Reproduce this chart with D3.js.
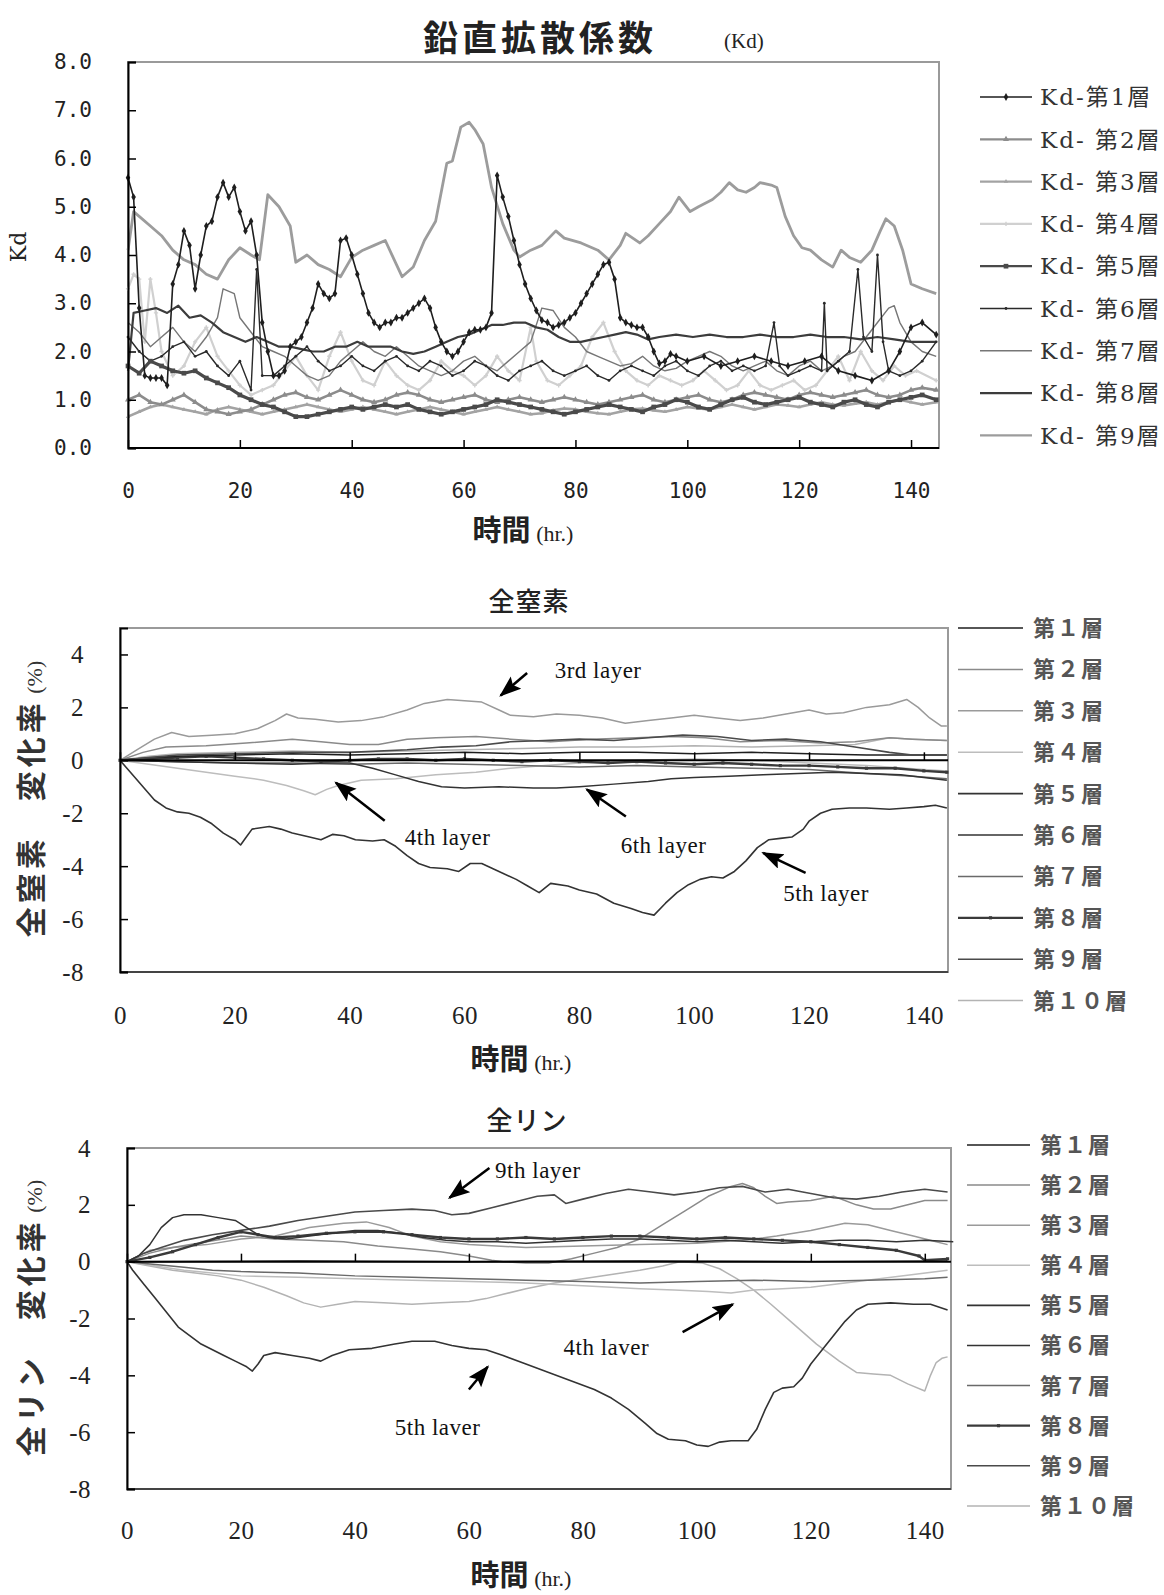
<!DOCTYPE html>
<html>
<head>
<meta charset="utf-8">
<script src="https://cdn.jsdelivr.net/npm/d3@7/dist/d3.min.js"></script>
<style>
  body { margin: 0; background: #fff; }
  svg { display: block; }
</style>
</head>
<body>
<div id="wrapper"></div>
<script>
// ---------- shared ----------
const hourTicks = [0, 20, 40, 60, 80, 100, 120, 140]

// ---------- 鉛直拡散係数 (Kd) : [hour, value] ----------
const kdNames = ["Kd-第1層", "Kd- 第2層", "Kd- 第3層", "Kd- 第4層", "Kd- 第5層",
                 "Kd- 第6層", "Kd- 第7層", "Kd- 第8層", "Kd- 第9層"]
const kdTicks = [0, 1, 2, 3, 4, 5, 6, 7, 8]

const kd1 = [[0,5.6],[1,5.2],[2,2.9],[3,1.5],[4,1.45],[5,1.45],[6,1.45],[7,1.3],[8,3.4],[9,3.8],[10,4.5],[11,4.2],[12,3.3],[13,4.0],[14,4.6],[15,4.7],[16,5.2],[17,5.5],[18,5.2],[19,5.4],[20,4.9],[21,4.5],[22,4.7],[23,4.0],[24,2.6],[25,2.0],[26,1.5],[27,1.5],[28,1.6],[29,2.1],[30,2.2],[31,2.3],[32,2.6],[33,2.9],[34,3.4],[35,3.2],[36,3.1],[37,3.2],[38,4.3],[39,4.35],[40,4.0],[41,3.6],[42,3.2],[43,2.8],[44,2.6],[45,2.5],[46,2.6],[47,2.6],[48,2.7],[49,2.7],[50,2.8],[51,2.9],[52,3.0],[53,3.1],[54,2.9],[55,2.5],[56,2.2],[57,2.0],[58,1.9],[59,2.0],[60,2.2],[61,2.4],[62,2.45],[63,2.45],[64,2.5],[65,2.8],[66,5.65],[67,5.2],[68,4.8],[69,4.3],[70,3.8],[71,3.4],[72,3.1],[73,2.85],[74,2.65],[75,2.6],[76,2.5],[77,2.55],[78,2.6],[79,2.7],[80,2.8],[81,3.0],[82,3.2],[83,3.4],[84,3.6],[85,3.8],[86,3.85],[87,3.5],[88,2.7],[89,2.6],[90,2.55],[91,2.5],[92,2.5],[93,2.3],[94,2.0],[95,1.75],[96,1.8],[97,1.95],[98,1.9],[100,1.8],[103,1.9],[106,1.7],[109,1.8],[112,1.9],[115,1.8],[118,1.7],[121,1.8],[124,1.9],[127,1.6],[130,1.5],[133,1.4],[136,1.6],[138,2.0],[140,2.5],[142,2.6],[144.5,2.35]]

const kd2 = [[0,1.0],[2,1.1],[4,0.95],[6,0.9],[8,1.0],[10,1.1],[12,0.95],[14,0.8],[16,0.75],[18,0.7],[20,0.75],[22,0.8],[24,0.9],[26,1.0],[28,1.1],[30,1.15],[32,1.05],[34,1.0],[36,1.1],[38,1.2],[40,1.1],[42,1.0],[44,0.95],[46,1.0],[48,1.1],[50,1.15],[52,1.1],[54,1.0],[56,0.95],[58,1.0],[60,1.05],[62,1.1],[64,1.0],[66,0.95],[68,1.0],[70,1.05],[72,1.0],[74,0.95],[76,1.0],[78,1.05],[80,1.0],[82,0.95],[84,0.9],[86,0.95],[88,1.0],[90,1.05],[92,1.1],[94,1.0],[96,0.95],[98,1.0],[100,1.05],[102,1.1],[104,1.0],[106,0.95],[108,1.0],[110,1.1],[112,1.15],[114,1.1],[116,1.05],[118,1.0],[120,1.1],[122,1.15],[124,1.1],[126,1.05],[128,1.1],[130,1.15],[132,1.2],[134,1.1],[136,1.05],[138,1.1],[140,1.2],[142,1.25],[144.5,1.2]]

const kd3 = [[0,0.65],[2,0.75],[4,0.85],[6,0.9],[8,0.85],[10,0.8],[12,0.75],[14,0.7],[16,0.8],[18,0.85],[20,0.8],[22,0.75],[24,0.7],[26,0.75],[28,0.8],[30,0.85],[32,0.9],[34,0.85],[36,0.8],[38,0.75],[40,0.8],[42,0.85],[44,0.8],[46,0.75],[48,0.7],[50,0.75],[52,0.8],[54,0.85],[56,0.8],[58,0.75],[60,0.7],[62,0.75],[64,0.8],[66,0.85],[68,0.8],[70,0.75],[72,0.7],[74,0.72],[76,0.78],[78,0.82],[80,0.8],[82,0.75],[84,0.72],[86,0.7],[88,0.75],[90,0.8],[92,0.82],[94,0.78],[96,0.75],[98,0.8],[100,0.85],[102,0.82],[104,0.8],[106,0.85],[108,0.9],[110,0.85],[112,0.8],[114,0.85],[116,0.9],[118,0.88],[120,0.85],[122,0.9],[124,0.95],[126,0.9],[128,0.88],[130,0.92],[132,0.95],[134,0.9],[136,0.95],[138,1.0],[140,0.95],[142,0.9],[144.5,0.95]]

const kd4 = [[0,3.3],[1,3.6],[2,3.5],[3,2.2],[4,3.5],[5,2.8],[6,2.0],[8,1.5],[10,1.7],[12,2.2],[14,2.5],[16,1.9],[18,1.6],[20,1.3],[22,1.1],[24,1.2],[26,1.3],[28,1.6],[30,1.9],[32,1.5],[34,1.2],[36,1.9],[38,2.4],[40,1.8],[42,1.4],[44,1.3],[46,1.8],[48,1.5],[50,1.3],[52,1.2],[54,1.4],[56,1.8],[58,1.6],[60,1.5],[62,1.3],[64,1.5],[66,1.9],[68,1.6],[70,1.4],[72,2.5],[73,1.8],[75,1.4],[77,1.3],[79,1.5],[81,1.7],[83,2.3],[85,2.6],[87,2.0],[89,1.6],[91,1.4],[93,1.3],[95,1.5],[97,1.4],[99,1.3],[101,1.4],[103,1.6],[105,1.4],[107,1.2],[109,1.3],[111,1.6],[113,1.3],[115,1.2],[117,1.3],[119,1.4],[121,1.2],[123,1.3],[125,1.6],[127,1.9],[129,1.4],[131,2.0],[133,1.6],[135,1.4],[137,1.7],[139,1.5],[141,1.6],[144.5,1.4]]

const kd5 = [[0,1.7],[2,1.55],[4,1.8],[6,1.7],[8,1.6],[10,1.55],[12,1.6],[14,1.45],[16,1.35],[18,1.25],[20,1.1],[22,1.0],[24,0.9],[26,0.85],[28,0.75],[30,0.65],[32,0.65],[34,0.7],[36,0.75],[38,0.8],[40,0.85],[42,0.8],[44,0.85],[46,0.9],[48,0.85],[50,0.9],[52,0.8],[54,0.75],[56,0.7],[58,0.75],[60,0.8],[62,0.85],[64,0.9],[66,1.0],[68,0.95],[70,0.9],[72,0.85],[74,0.8],[76,0.75],[78,0.7],[80,0.75],[82,0.8],[84,0.85],[86,0.9],[88,0.85],[90,0.8],[92,0.75],[94,0.85],[96,0.9],[98,1.0],[100,0.95],[102,0.85],[104,0.8],[106,0.9],[108,1.0],[110,1.05],[112,0.95],[114,0.9],[116,0.95],[118,1.0],[120,1.05],[122,0.95],[124,0.9],[126,0.85],[128,0.95],[130,1.0],[132,0.9],[134,0.85],[136,0.95],[138,1.0],[140,1.05],[142,1.1],[144.5,1.0]]

const kd6 = [[0,2.3],[2,2.0],[4,1.8],[6,1.9],[8,2.1],[10,2.2],[12,1.9],[14,2.0],[16,1.7],[18,1.5],[20,1.8],[22,1.2],[23,3.7],[24,1.5],[26,1.5],[28,1.7],[30,1.9],[32,2.1],[34,1.8],[36,1.6],[38,1.7],[40,1.9],[42,1.7],[44,1.6],[46,1.8],[48,1.9],[50,1.7],[52,1.6],[54,1.8],[56,1.7],[58,1.5],[60,1.6],[62,1.8],[64,1.7],[66,1.5],[68,1.4],[70,1.6],[72,1.7],[74,1.8],[76,1.6],[78,1.5],[80,1.6],[82,1.7],[84,1.5],[86,1.4],[88,1.6],[90,1.7],[92,1.6],[94,1.5],[96,1.7],[98,1.8],[100,1.6],[102,1.5],[104,1.7],[106,1.8],[108,1.6],[110,1.7],[112,1.6],[114,1.7],[115.5,2.6],[116.5,1.7],[118,1.5],[120,1.6],[122,1.7],[124,1.6],[124.5,3.0],[125,1.6],[127,1.8],[129,2.0],[130.5,3.7],[131.5,2.3],[133,2.0],[134,4.0],[135,2.2],[136,1.6],[138,1.5],[140,1.6],[142,1.8],[144.5,2.2]]

const kd7 = [[0,2.6],[2,2.4],[4,2.1],[6,2.3],[8,2.5],[10,2.2],[12,2.0],[14,2.3],[16,2.7],[17,3.3],[19,3.2],[20,2.7],[22,2.4],[24,2.1],[26,2.0],[28,1.9],[30,1.7],[32,1.5],[34,1.4],[36,1.5],[38,1.8],[40,2.0],[42,2.2],[44,2.0],[46,1.9],[48,2.1],[50,1.9],[52,1.7],[54,1.6],[56,1.5],[58,1.6],[60,1.8],[62,1.9],[64,1.7],[66,1.6],[68,1.8],[70,2.0],[72,2.2],[74,2.9],[76,2.85],[78,2.5],[80,2.3],[82,2.0],[84,1.9],[86,1.8],[88,1.7],[90,1.75],[92,1.9],[94,1.7],[96,1.6],[98,1.65],[100,1.8],[102,1.9],[104,2.0],[106,1.9],[108,1.7],[110,1.6],[112,1.7],[114,1.8],[116,1.6],[118,1.5],[120,1.7],[122,1.8],[124,1.6],[126,1.7],[128,1.9],[130,2.0],[132,2.3],[134,2.6],[136,2.9],[137,2.95],[138,2.6],[140,2.2],[142,2.0],[144.5,1.9]]

const kd8 = [[0,1.6],[1,2.8],[3,2.85],[5,2.9],[7,2.8],[9,2.95],[11,2.7],[13,2.75],[15,2.6],[17,2.4],[19,2.3],[21,2.2],[23,2.3],[25,2.2],[27,2.1],[29,2.1],[31,2.05],[33,2.0],[35,2.0],[37,2.1],[39,2.1],[41,2.2],[43,2.1],[45,2.1],[47,2.1],[49,2.0],[51,1.95],[53,2.0],[55,2.1],[57,2.2],[59,2.3],[61,2.35],[63,2.45],[65,2.55],[67,2.55],[69,2.6],[71,2.6],[73,2.5],[75,2.45],[77,2.3],[79,2.2],[81,2.2],[83,2.25],[85,2.3],[87,2.35],[89,2.4],[91,2.35],[93,2.25],[95,2.3],[98,2.35],[101,2.3],[104,2.35],[107,2.3],[110,2.3],[113,2.35],[116,2.3],[119,2.3],[122,2.35],[125,2.3],[128,2.3],[131,2.25],[134,2.3],[137,2.25],[140,2.2],[144.5,2.2]]

const kd9 = [[0,4.1],[1,4.9],[2,4.8],[4,4.6],[6,4.4],[8,4.1],[10,3.9],[12,3.8],[14,3.6],[16,3.5],[18,3.9],[20,4.15],[22,4.0],[23.5,3.9],[25,5.25],[27,5.0],[29,4.6],[30,3.85],[32,4.0],[34,3.8],[36,3.7],[38,3.55],[40,3.95],[42,4.1],[44,4.2],[46,4.3],[48,3.8],[49,3.55],[51,3.75],[53,4.3],[55,4.7],[57,5.9],[58,5.95],[59.5,6.65],[61,6.75],[62,6.6],[63.5,6.3],[65,5.4],[67,4.65],[69,4.1],[70,3.96],[72,4.1],[74,4.2],[76.5,4.5],[78,4.35],[81,4.25],[84,4.1],[86,3.9],[88,4.2],[89,4.45],[91.5,4.25],[93,4.4],[95,4.65],[97,4.9],[98.5,5.2],[100.5,4.9],[102,5.0],[104.5,5.15],[106,5.3],[107.5,5.5],[109,5.35],[110.5,5.3],[112,5.4],[113,5.5],[115,5.45],[116,5.4],[117.5,4.8],[119,4.4],[120.5,4.15],[122,4.1],[124,3.9],[126,3.75],[127.5,4.1],[129,3.95],[131,3.85],[133,4.1],[134.5,4.5],[135.5,4.75],[137,4.6],[138.5,4.1],[140,3.4],[142,3.3],[144.5,3.2]]

// ---------- 全窒素 変化率 (%) ----------
const layerNames = ["第１層", "第２層", "第３層", "第４層", "第５層",
                    "第６層", "第７層", "第８層", "第９層", "第１０層"]
const pctTicks = [-8, -6, -4, -2, 0, 2, 4]

const tn1 = [[0,0],[5,0.1],[10,0.15],[20,0.2],[30,0.25],[40,0.2],[50,0.25],[60,0.3],[70,0.25],[80,0.3],[90,0.3],[100,0.25],[110,0.3],[120,0.25],[130,0.2],[140,0.2],[144,0.2]]
const tn2 = [[0,0],[4,0.3],[8,0.5],[15,0.55],[22,0.65],[30,0.8],[35,0.7],[40,0.6],[45,0.6],[50,0.8],[55,0.85],[62,0.9],[68,0.8],[75,0.7],[82,0.8],[90,0.85],[96,0.9],[102,0.85],[108,0.7],[115,0.75],[122,0.65],[128,0.7],[134,0.85],[138,0.8],[144,0.75]]
const tn3 = [[0,0],[3,0.4],[6,0.8],[9,1.05],[12,0.9],[16,0.95],[20,1.0],[24,1.2],[27,1.5],[29,1.75],[31,1.6],[34,1.55],[38,1.45],[42,1.5],[46,1.65],[50,1.9],[53,2.15],[57,2.3],[60,2.25],[63,2.2],[66,1.9],[68,1.7],[72,1.65],[76,1.75],[80,1.7],[84,1.6],[88,1.4],[92,1.5],[96,1.6],[100,1.7],[104,1.6],[108,1.5],[112,1.6],[116,1.75],[120,1.9],[123,1.75],[126,1.8],[130,2.0],[134,2.1],[137,2.3],[139,2.0],[141,1.6],[143,1.3],[144,1.3]]
const tn4 = [[0,0],[5,-0.15],[10,-0.3],[15,-0.45],[20,-0.6],[25,-0.75],[29,-0.95],[32,-1.15],[34,-1.3],[36,-1.1],[38,-0.95],[42,-0.75],[48,-0.7],[55,-0.55],[62,-0.45],[68,-0.3],[74,-0.2],[80,-0.1],[90,0],[100,0.05],[110,0],[120,-0.1],[130,-0.2],[140,-0.35],[144,-0.4]]
const tn5 = [[0,0],[2,-0.5],[4,-1.0],[6,-1.5],[8,-1.8],[10,-1.95],[12,-2.0],[14,-2.15],[16,-2.4],[18,-2.75],[20,-3.0],[21,-3.2],[22,-2.9],[23,-2.6],[26,-2.5],[28,-2.6],[30,-2.75],[33,-2.9],[35,-3.0],[37,-2.8],[39,-2.85],[41,-3.0],[44,-3.05],[46,-3.0],[48,-3.25],[50,-3.6],[52,-3.9],[54,-4.05],[57,-4.1],[59,-4.2],[61,-3.9],[63,-3.9],[66,-4.2],[69,-4.5],[71,-4.75],[73,-5.0],[75,-4.65],[78,-4.75],[80,-4.9],[83,-5.05],[86,-5.4],[89,-5.6],[91,-5.75],[93,-5.85],[95,-5.4],[97,-5.0],[99,-4.7],[101,-4.5],[103,-4.4],[105,-4.45],[107,-4.2],[109,-3.8],[111,-3.3],[113,-3.0],[115,-2.95],[117,-2.9],[119,-2.6],[120,-2.3],[122,-2.0],[124,-1.85],[127,-1.8],[130,-1.8],[134,-1.85],[137,-1.8],[140,-1.75],[142,-1.7],[144,-1.8]]
const tn6 = [[0,0],[10,-0.05],[20,-0.1],[30,-0.15],[36,-0.1],[40,-0.1],[44,-0.3],[48,-0.55],[52,-0.8],[56,-1.0],[60,-1.05],[66,-1.0],[72,-1.05],[76,-1.05],[80,-1.0],[86,-0.9],[92,-0.8],[96,-0.7],[100,-0.65],[106,-0.6],[112,-0.55],[118,-0.5],[124,-0.45],[130,-0.5],[136,-0.55],[140,-0.65],[144,-0.75]]
const tn7 = [[0,0],[10,-0.05],[20,-0.1],[30,-0.1],[40,-0.15],[50,-0.1],[60,-0.15],[70,-0.2],[80,-0.25],[90,-0.2],[100,-0.25],[110,-0.3],[120,-0.35],[130,-0.5],[138,-0.6],[144,-0.7]]
const tn8 = [[0,0],[5,0.05],[10,0.1],[15,0.15],[20,0.1],[25,0.05],[30,0.0],[35,-0.05],[40,0.0],[45,0.05],[50,0.05],[55,0.0],[60,0.05],[65,0.0],[70,-0.05],[75,0.0],[80,-0.05],[85,-0.1],[90,-0.05],[95,-0.1],[100,-0.15],[105,-0.1],[110,-0.15],[115,-0.2],[120,-0.2],[125,-0.25],[130,-0.3],[135,-0.3],[140,-0.4],[144,-0.45]]
const tn9 = [[0,0],[5,0.1],[10,0.2],[20,0.25],[30,0.3],[40,0.3],[50,0.4],[56,0.5],[62,0.55],[68,0.7],[74,0.75],[80,0.8],[86,0.75],[92,0.85],[98,0.95],[104,0.9],[110,0.75],[116,0.8],[122,0.7],[128,0.5],[134,0.3],[138,0.2],[144,0.2]]
const tn10 = [[0,0],[5,0.15],[10,0.25],[20,0.3],[30,0.35],[40,0.3],[50,0.35],[60,0.4],[70,0.45],[80,0.5],[90,0.5],[100,0.55],[110,0.5],[120,0.55],[128,0.6],[134,0.85],[138,0.8],[144,0.75]]

// ---------- 全リン 変化率 (%) ----------
const tp1 = [[0,0],[30,0.02],[60,0.0],[90,0.02],[120,0.0],[144,0.02]]
const tp2 = [[0,0],[4,0.3],[8,0.5],[14,0.7],[20,0.9],[26,0.8],[32,0.75],[38,0.7],[44,0.55],[50,0.45],[55,0.35],[60,0.2],[64,0.05],[66,0],[70,-0.05],[74,-0.05],[78,0.1],[82,0.3],[86,0.5],[90,0.8],[94,1.3],[98,1.8],[102,2.3],[106,2.65],[108,2.75],[110,2.6],[112,2.3],[114,2.05],[116,2.1],[120,2.15],[124,2.3],[128,2.0],[131,1.85],[134,1.85],[137,2.0],[140,2.15],[144,2.15]]
const tp3 = [[0,0],[4,0.4],[8,0.5],[14,0.6],[20,0.8],[26,0.9],[32,1.2],[38,1.35],[42,1.4],[46,1.2],[50,0.9],[55,0.7],[60,0.6],[70,0.5],[80,0.55],[90,0.6],[100,0.65],[108,0.75],[114,0.9],[120,1.1],[126,1.35],[130,1.3],[134,1.1],[138,0.9],[142,0.7],[144,0.6]]
const tp4 = [[0,0],[5,-0.15],[10,-0.3],[20,-0.5],[30,-0.55],[40,-0.6],[50,-0.65],[60,-0.7],[70,-0.75],[80,-0.85],[90,-0.95],[96,-1.0],[102,-1.05],[106,-1.1],[110,-1.0],[115,-0.95],[120,-0.9],[126,-0.75],[132,-0.6],[138,-0.45],[144,-0.3]]
const tp5 = [[0,0],[1,-0.3],[3,-0.8],[5,-1.3],[7,-1.8],[9,-2.3],[11,-2.6],[13,-2.9],[15,-3.1],[17,-3.3],[19,-3.5],[21,-3.7],[22,-3.85],[23,-3.6],[24,-3.3],[26,-3.2],[29,-3.3],[32,-3.4],[34,-3.5],[36,-3.3],[39,-3.1],[43,-3.05],[47,-2.9],[50,-2.8],[54,-2.8],[57,-2.95],[60,-3.05],[63,-3.1],[66,-3.3],[70,-3.6],[74,-3.9],[78,-4.2],[82,-4.5],[85,-4.8],[88,-5.2],[91,-5.7],[93,-6.05],[95,-6.25],[98,-6.3],[100,-6.45],[102,-6.5],[104,-6.35],[106,-6.3],[109,-6.3],[110.5,-5.9],[112,-5.2],[113.5,-4.6],[115,-4.45],[117,-4.4],[118.5,-4.1],[120,-3.6],[122,-3.1],[124,-2.6],[126,-2.1],[128,-1.7],[130,-1.5],[134,-1.45],[138,-1.5],[141,-1.5],[144,-1.7]]
const tp6 = [[0,0],[2,0.2],[4,0.6],[6,1.2],[8,1.55],[10,1.65],[13,1.65],[16,1.55],[19,1.45],[21,1.2],[23,0.95],[25,0.85],[28,0.8],[32,0.9],[36,1.0],[40,1.1],[44,1.1],[48,1.0],[52,0.85],[56,0.75],[60,0.7],[65,0.7],[70,0.65],[75,0.7],[80,0.75],[85,0.8],[90,0.8],[95,0.75],[100,0.7],[105,0.75],[110,0.7],[115,0.65],[120,0.7],[125,0.75],[130,0.75],[135,0.7],[140,0.75],[145,0.7]]
const tp7 = [[0,0],[5,-0.1],[10,-0.2],[15,-0.3],[20,-0.35],[30,-0.4],[40,-0.5],[50,-0.55],[60,-0.6],[70,-0.65],[80,-0.7],[90,-0.75],[100,-0.7],[110,-0.65],[120,-0.7],[130,-0.65],[140,-0.6],[144,-0.55]]
const tp8 = [[0,0],[4,0.15],[8,0.35],[12,0.6],[16,0.85],[20,1.05],[23,0.95],[26,0.85],[30,0.9],[35,1.0],[40,1.05],[45,1.05],[50,0.95],[55,0.85],[60,0.8],[65,0.8],[70,0.85],[75,0.8],[80,0.85],[85,0.9],[90,0.9],[95,0.85],[100,0.8],[105,0.85],[110,0.8],[115,0.75],[120,0.7],[125,0.6],[130,0.5],[135,0.4],[139,0.2],[140,0.05],[144,0.1]]
const tp9 = [[0,0],[3,0.3],[6,0.5],[10,0.75],[15,0.95],[20,1.1],[25,1.25],[30,1.45],[35,1.6],[40,1.75],[45,1.8],[50,1.85],[54,1.8],[57,1.65],[60,1.7],[64,1.9],[68,2.1],[72,2.3],[75,2.35],[77,2.05],[80,2.2],[84,2.4],[88,2.55],[92,2.45],[96,2.35],[100,2.45],[104,2.6],[108,2.65],[112,2.45],[116,2.55],[120,2.4],[124,2.25],[128,2.2],[132,2.3],[136,2.45],[140,2.55],[144,2.45]]
const tp10 = [[0,0],[4,-0.15],[8,-0.3],[12,-0.4],[16,-0.5],[20,-0.65],[24,-0.9],[28,-1.2],[31,-1.45],[34,-1.6],[37,-1.5],[40,-1.4],[45,-1.45],[50,-1.5],[55,-1.45],[60,-1.4],[63,-1.3],[66,-1.15],[70,-0.95],[75,-0.75],[80,-0.6],[85,-0.45],[90,-0.3],[94,-0.15],[97,0],[101,-0.05],[104,-0.25],[107,-0.6],[110,-1.0],[113,-1.5],[117,-2.2],[121,-2.9],[125,-3.5],[128,-3.9],[131,-3.95],[134,-4.0],[137,-4.3],[140,-4.55],[141,-4.0],[142,-3.55],[143,-3.4],[144,-3.35]]

// annotations: label, text anchor [hour, value], arrow tail, arrow head
const tnNotes = [
  { label: "3rd layer", at: [75.7, 3.1],  from: [70.9, 3.3],   to: [66.3, 2.45] },
  { label: "4th layer", at: [49.6, -3.2], from: [46.1, -2.28], to: [37.6, -0.85] },
  { label: "6th layer", at: [87.2, -3.5], from: [88.1, -2.12], to: [81.3, -1.1] },
  { label: "5th layer", at: [115.5, -5.3], from: [119.4, -4.25], to: [112, -3.5] },
]
const tpNotes = [
  { label: "9th layer", at: [64.6, 2.95], from: [63.6, 3.3],  to: [56.6, 2.25] },
  { label: "4th laver", at: [76.6, -3.28], from: [97.5, -2.48], to: [106.3, -1.5] },
  { label: "5th laver", at: [47, -6.1],   from: [60, -4.5],    to: [63.3, -3.7] },
]

// ---------- drawing ----------
const serif = "'Liberation Serif', 'Times New Roman', serif"
const gothic = "'Noto Sans CJK JP', 'Noto Sans', sans-serif"
const kdFont = "'DejaVu Serif', 'Noto Sans CJK JP', serif"
const kdTickFont = "'DejaVu Sans Mono', 'Liberation Mono', monospace"

const wrapper = d3.select("#wrapper")
  .append("svg")
  .attr("width", 1164)
  .attr("height", 1595)
  .style("background", "#fff")

const defs = wrapper.append("defs")
defs.append("marker")
  .attr("id", "head")
  .attr("markerUnits", "userSpaceOnUse")
  .attr("markerWidth", 24).attr("markerHeight", 20)
  .attr("refX", 20).attr("refY", 8)
  .attr("orient", "auto")
  .append("path")
  .attr("d", "M0,0 L22,8 L0,16 L4,8 Z")
  .attr("fill", "#000")

function drawPanel(p) {
  const x = d3.scaleLinear().domain(p.xDomain).range([p.left, p.right])
  const y = d3.scaleLinear().domain(p.yDomain).range([p.bottom, p.top])
  const g = wrapper.append("g")

  // frame: grey top/right, darker bottom, black left axis
  g.append("rect")
    .attr("x", p.left).attr("y", p.top)
    .attr("width", p.right - p.left).attr("height", p.bottom - p.top)
    .attr("fill", "none").attr("stroke", "#9a9a9a").attr("stroke-width", 2)
  g.append("line")
    .attr("x1", p.left).attr("x2", p.right).attr("y1", p.bottom).attr("y2", p.bottom)
    .attr("stroke", p.bottomColor).attr("stroke-width", 2)

  const lineGen = d3.line().x(d => x(d[0])).y(d => y(d[1]))
  p.order.forEach(i => {
    const s = p.series[i], st = p.styles[i]
    g.append("path")
      .attr("d", lineGen(s))
      .attr("fill", "none")
      .attr("stroke", st.color)
      .attr("stroke-width", st.width)
      .attr("stroke-linejoin", "round")
    if (st.marker) {
      g.selectAll(null).data(s).join("path")
        .attr("transform", d => `translate(${x(d[0])},${y(d[1])})`)
        .attr("d", d3.symbol(st.marker, st.msize))
        .attr("fill", st.color)
    }
  })

  // y axis (ticks inside)
  const yAxis = g.append("g")
    .attr("transform", `translate(${p.left},0)`)
    .call(d3.axisLeft(y).tickValues(p.yTicks).tickSize(-8).tickPadding(p.yPad).tickFormat(p.yFormat))
  yAxis.select(".domain").attr("stroke", "#000").attr("stroke-width", 2)
  yAxis.selectAll(".tick line").attr("stroke", "#000").attr("stroke-width", 1.5)
  yAxis.selectAll("text").attr("font-family", p.tickFont).attr("font-size", p.tickSize)
    .attr("fill", "#222").attr("letter-spacing", p.tickSpacing)

  // x axis line with upward ticks
  const xAxis = g.append("g")
    .attr("transform", `translate(0,${y(p.xAxisAt)})`)
    .call(d3.axisBottom(x).tickValues(hourTicks).tickSize(-8).tickFormat(""))
  xAxis.select(".domain").attr("d", `M${p.left},0H${p.right}`).attr("stroke", "#000").attr("stroke-width", 2)
  xAxis.selectAll(".tick line").attr("stroke", "#000").attr("stroke-width", 1.5)

  // x tick labels below frame
  const xLabels = g.append("g")
    .attr("transform", `translate(0,${p.xLabelY})`)
    .call(d3.axisBottom(x).tickValues(hourTicks).tickSize(0).tickPadding(0))
  xLabels.select(".domain").remove()
  xLabels.selectAll("text").attr("dy", "0.35em").attr("y", 0)
    .attr("font-family", p.tickFont).attr("font-size", p.tickSize)
    .attr("fill", "#222").attr("letter-spacing", p.tickSpacing)

  // x title
  const xt = g.append("text")
    .attr("x", p.xTitleX).attr("y", p.xTitleY)
    .attr("text-anchor", "middle").attr("fill", "#222")
  xt.append("tspan").text("時間").attr("font-family", gothic).attr("font-weight", 700).attr("font-size", 29)
  xt.append("tspan").text(" (hr.)").attr("font-family", serif).attr("font-size", 22)

  // legend
  p.names.forEach((name, i) => {
    const st = p.styles[i]
    const ly = p.legendY + i * p.legendStep
    g.append("line")
      .attr("x1", p.legendX1).attr("x2", p.legendX2).attr("y1", ly).attr("y2", ly)
      .attr("stroke", st.color).attr("stroke-width", Math.min(st.width, 2.2))
    if (st.marker) {
      g.append("path")
        .attr("transform", `translate(${(p.legendX1 + p.legendX2) / 2},${ly})`)
        .attr("d", d3.symbol(st.marker, st.msize))
        .attr("fill", st.color)
    }
    g.append("text")
      .attr("x", p.legendTextX).attr("y", ly)
      .attr("dy", "0.36em")
      .attr("font-family", p.legendFont).attr("font-size", p.legendSize)
      .attr("font-weight", p.legendWeight)
      .attr("letter-spacing", p.legendSpacing)
      .attr("fill", p.legendColor)
      .text(name)
  })

  // annotations
  ;(p.notes || []).forEach(n => {
    g.append("line")
      .attr("x1", x(n.from[0])).attr("y1", y(n.from[1]))
      .attr("x2", x(n.to[0])).attr("y2", y(n.to[1]))
      .attr("stroke", "#000").attr("stroke-width", 2.5)
      .attr("marker-end", "url(#head)")
    g.append("text")
      .attr("x", x(n.at[0])).attr("y", y(n.at[1]))
      .attr("font-family", serif).attr("font-size", 23)
      .attr("letter-spacing", 0.5)
      .attr("fill", "#111")
      .text(n.label)
  })
  return { x, y }
}

// ----- panel 1 : Kd -----
const kdStyles = [
  { color: "#1e1e1e", width: 1.6, marker: d3.symbolDiamond, msize: 18 },
  { color: "#8c8c8c", width: 2.6, marker: d3.symbolTriangle, msize: 16 },
  { color: "#a3a3a3", width: 2.6, marker: d3.symbolTriangle, msize: 8 },
  { color: "#d0d0d0", width: 2.2, marker: d3.symbolCross, msize: 10 },
  { color: "#4a4a4a", width: 3.2, marker: d3.symbolSquare, msize: 22 },
  { color: "#2a2a2a", width: 1.4, marker: d3.symbolCircle, msize: 6 },
  { color: "#767676", width: 1.4, marker: null },
  { color: "#3c3c3c", width: 2.2, marker: null },
  { color: "#9c9c9c", width: 2.8, marker: null },
]
drawPanel({
  series: [kd1, kd2, kd3, kd4, kd5, kd6, kd7, kd8, kd9],
  styles: kdStyles, names: kdNames,
  order: [3, 2, 1, 6, 7, 5, 4, 8, 0],
  left: 128, right: 939, top: 62, bottom: 448,
  xDomain: [0, 145], yDomain: [0, 8], yTicks: kdTicks,
  yFormat: d3.format(".1f"), yPad: 36, xAxisAt: 0, bottomColor: "#000",
  tickFont: kdTickFont, tickSize: 21, tickSpacing: 0,
  xLabelY: 491, xTitleX: 523, xTitleY: 541,
  legendX1: 980, legendX2: 1032, legendTextX: 1040, legendY: 97, legendStep: 42.3,
  legendFont: kdFont, legendSize: 23, legendWeight: 400, legendSpacing: 2, legendColor: "#333",
})

wrapper.append("text")
  .attr("x", 540).attr("y", 51)
  .attr("text-anchor", "middle")
  .attr("font-family", gothic).attr("font-weight", 700).attr("font-size", 35)
  .attr("letter-spacing", 4).attr("fill", "#222")
  .text("鉛直拡散係数")
wrapper.append("text")
  .attr("x", 724).attr("y", 48)
  .attr("font-family", serif).attr("font-size", 21).attr("fill", "#222")
  .text("(Kd)")
wrapper.append("text")
  .attr("transform", "translate(26,247) rotate(-90)")
  .attr("text-anchor", "middle")
  .attr("font-family", kdFont).attr("font-size", 22).attr("fill", "#222")
  .text("Kd")

// ----- panel 2 : 全窒素 -----
const layerStyles = [
  { color: "#1e1e1e", width: 1.5, marker: null },
  { color: "#8a8a8a", width: 1.5, marker: null },
  { color: "#9a9a9a", width: 1.5, marker: null },
  { color: "#bdbdbd", width: 1.5, marker: null },
  { color: "#333333", width: 1.6, marker: null },
  { color: "#333333", width: 1.5, marker: null },
  { color: "#6a6a6a", width: 1.5, marker: null },
  { color: "#3a3a3a", width: 2.4, marker: d3.symbolSquare, msize: 10 },
  { color: "#4a4a4a", width: 1.6, marker: null },
  { color: "#b3b3b3", width: 1.5, marker: null },
]
const legendCommon = {
  legendFont: gothic, legendSize: 22, legendWeight: 700, legendSpacing: 2, legendColor: "#555",
  tickFont: serif, tickSize: 25, tickSpacing: 0.5, yFormat: d => String(d),
  bottomColor: "#444", xAxisAt: 0, yPad: 36,
}
drawPanel(Object.assign({
  series: [tn1, tn2, tn3, tn4, tn5, tn6, tn7, tn8, tn9, tn10],
  styles: layerStyles, names: layerNames,
  order: [9, 3, 2, 1, 6, 7, 0, 8, 5, 4],
  left: 120, right: 948, top: 628, bottom: 972,
  xDomain: [0, 144.2], yDomain: [-8, 5], yTicks: pctTicks,
  xLabelY: 1015, xTitleX: 521, xTitleY: 1070,
  legendX1: 958, legendX2: 1023, legendTextX: 1033, legendY: 628, legendStep: 41.4,
  notes: tnNotes,
}, legendCommon))

wrapper.append("text")
  .attr("x", 529).attr("y", 611)
  .attr("text-anchor", "middle")
  .attr("font-family", gothic).attr("font-weight", 500).attr("font-size", 26)
  .attr("letter-spacing", 1).attr("fill", "#222")
  .text("全窒素")

function yTitle(cx, cy, main) {
  const t = wrapper.append("text")
    .attr("transform", `translate(${cx},${cy}) rotate(-90)`)
    .attr("text-anchor", "middle").attr("dy", "0.35em").attr("fill", "#333")
  t.append("tspan").text(main)
    .attr("font-family", gothic).attr("font-weight", 700).attr("font-size", 30).attr("letter-spacing", 4)
  t.append("tspan").text(" (%)")
    .attr("font-family", serif).attr("font-size", 22)
}
yTitle(36, 799, "全窒素　変化率")

// ----- panel 3 : 全リン -----
drawPanel(Object.assign({
  series: [tp1, tp2, tp3, tp4, tp5, tp6, tp7, tp8, tp9, tp10],
  styles: layerStyles, names: layerNames,
  order: [9, 3, 2, 6, 1, 8, 7, 5, 0, 4],
  left: 127, right: 951, top: 1148, bottom: 1489,
  xDomain: [0, 144.6], yDomain: [-8, 4], yTicks: pctTicks,
  xLabelY: 1530, xTitleX: 521, xTitleY: 1586,
  legendX1: 967, legendX2: 1030, legendTextX: 1040, legendY: 1145, legendStep: 40.1,
  notes: tpNotes,
}, legendCommon))

wrapper.append("text")
  .attr("x", 527).attr("y", 1130)
  .attr("text-anchor", "middle")
  .attr("font-family", gothic).attr("font-weight", 500).attr("font-size", 26)
  .attr("letter-spacing", 1).attr("fill", "#222")
  .text("全リン")
yTitle(36, 1318, "全リン　変化率")
</script>
</body>
</html>
